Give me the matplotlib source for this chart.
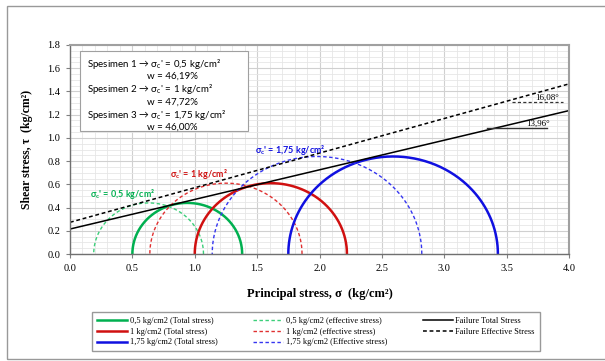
import numpy as np
import matplotlib.pyplot as plt
from matplotlib.patches import Rectangle
from matplotlib.ticker import MultipleLocator

# Mohr circles: (sigma3, sigma1)
total_s3 = [0.50, 1.00, 1.75]
total_s1 = [1.38, 2.22, 3.43]
eff_s3 = [0.19, 0.64, 1.14]
eff_s1 = [1.07, 1.86, 2.82]
specimen_labels = ["0,5", "1", "1,75"]
eff_labels = ["effective stress", "effective stress", "Effective stress"]
colors_total = ["#00b050", "#d01010", "#1010e0"]
colors_eff = ["#3ccf7a", "#e03030", "#3535f0"]

# failure envelopes: intercept (c) and tan(phi)
fail_total_c, fail_total_slope = 0.215, 0.255
fail_eff_c, fail_eff_slope = 0.273, 0.298
angle_total = "13,96°"
angle_eff = "16,08°"

info_lines = [
    ("Spesimen 1 → σ$_\\mathregular{c}$' = 0,5 kg/cm²", "w = 46,19%"),
    ("Spesimen 2 → σ$_\\mathregular{c}$' = 1 kg/cm²", "w = 47,72%"),
    ("Spesimen 3 → σ$_\\mathregular{c}$' = 1,75 kg/cm²", "w = 46,00%"),
]

serif = "Liberation Serif"
sans = "Lato"

fig = plt.figure(figsize=(6.05, 3.61), dpi=100)
ax = fig.add_axes([70 / 605, 1 - 254 / 361, 499 / 605, 209 / 361])

theta = np.linspace(0, np.pi, 300)
handles_total, handles_eff = [], []
for i in range(3):
    c = (total_s1[i] + total_s3[i]) / 2
    r = (total_s1[i] - total_s3[i]) / 2
    h, = ax.plot(c + r * np.cos(theta), r * np.sin(theta), color=colors_total[i], lw=1.8,
                 label=f"{specimen_labels[i]} kg/cm2 (Total stress)")
    handles_total.append(h)
    c = (eff_s1[i] + eff_s3[i]) / 2
    r = (eff_s1[i] - eff_s3[i]) / 2
    h, = ax.plot(c + r * np.cos(theta), r * np.sin(theta), color=colors_eff[i], lw=1.0,
                 ls=(0, (2.5, 1.8)), label=f"{specimen_labels[i]} kg/cm2 ({eff_labels[i]})")
    handles_eff.append(h)

xs = np.array([0, 4.0])
h_ft, = ax.plot(xs, fail_total_c + fail_total_slope * xs, color="black", lw=1.1,
                label="Failure Total Stress")
h_fe, = ax.plot(xs, fail_eff_c + fail_eff_slope * xs, color="black", lw=1.1,
                ls=(0, (2.5, 1.8)), label="Failure Effective Stress")

# angle markers
ax.plot([3.34, 3.82], [1.083, 1.083], color="#333333", lw=1.0)
ax.text(3.66, 1.09, angle_total, fontsize=6.5, family=serif, va="bottom")
ax.plot([3.54, 3.95], [1.31, 1.31], color="#333333", lw=0.9, ls=(0, (2.5, 1.8)))
ax.text(3.73, 1.315, angle_eff, fontsize=6.5, family=serif, va="bottom")

# circle labels
circle_text = [(0.16, 0.49, "σ$_\\mathregular{c}$' = 0,5 kg/cm²"),
               (0.80, 0.66, "σ$_\\mathregular{c}$' = 1 kg/cm²"),
               (1.48, 0.87, "σ$_\\mathregular{c}$' = 1,75 kg/cm²")]
for (x, y, s), col in zip(circle_text, colors_total):
    ax.text(x, y, s, color=col, fontsize=6.5, fontweight="bold", family=sans)

# info box
box = Rectangle((0.08, 1.06), 1.35, 0.69, facecolor="white", edgecolor="#a0a0a0", lw=0.8, zorder=5)
ax.add_patch(box)
y = 1.64
for a, b in info_lines:
    ax.text(0.14, y, a, fontsize=7, family=sans, va="center", zorder=6)
    ax.text(0.82, y - 0.11, b, fontsize=7, family=sans, va="center", ha="center", zorder=6)
    y -= 0.22

ax.set_xlim(0, 4.0)
ax.set_ylim(0, 1.8)
ax.xaxis.set_major_locator(MultipleLocator(0.5))
ax.xaxis.set_minor_locator(MultipleLocator(0.1))
ax.yaxis.set_major_locator(MultipleLocator(0.2))
ax.yaxis.set_minor_locator(MultipleLocator(0.05))
ax.xaxis.set_major_formatter(lambda v, p: f"{v:.1f}")
ax.yaxis.set_major_formatter(lambda v, p: f"{v:.1f}")
ax.grid(which="major", color="#d0d0d0", lw=0.8)
ax.grid(which="minor", color="#e6e6e6", lw=0.6)
ax.set_axisbelow(True)
ax.tick_params(which="major", labelsize=7.5, length=3, color="#808080", pad=4)
ax.tick_params(which="minor", length=0)
for lab in ax.get_xticklabels() + ax.get_yticklabels():
    lab.set_family(serif)
for s in ["top", "right"]:
    ax.spines[s].set_color("#a0a0a0")
    ax.spines[s].set_linewidth(1.5)
for s in ["left", "bottom"]:
    ax.spines[s].set_color("#707070")
    ax.spines[s].set_linewidth(1.0)

ax.set_xlabel("Principal stress, σ  (kg/cm²)", fontsize=9, fontweight="bold", family=serif, labelpad=11)
ax.set_ylabel("Shear stress, τ  (kg/cm²)", fontsize=8.5, fontweight="bold", family=serif, labelpad=10)

handles = handles_total + handles_eff + [h_ft, h_fe]
leg = fig.legend(handles=handles, ncol=3, loc="center", bbox_to_anchor=(316 / 605, 1 - 331.5 / 361),
                 prop={"family": serif, "size": 6}, frameon=True, fancybox=False,
                 handlelength=3.6, handletextpad=0.3, columnspacing=4.3, labelspacing=0.35,
                 borderpad=0.6)
leg.get_frame().set_edgecolor("#808080")
leg.get_frame().set_linewidth(1.0)

# outer chart frame
fig.patches.append(Rectangle((7 / 605, 2 / 361), 1.0, 353 / 361, transform=fig.transFigure,
                             facecolor="none", edgecolor="#999999", lw=1.0))

fig.savefig("out.png", dpi=100)
